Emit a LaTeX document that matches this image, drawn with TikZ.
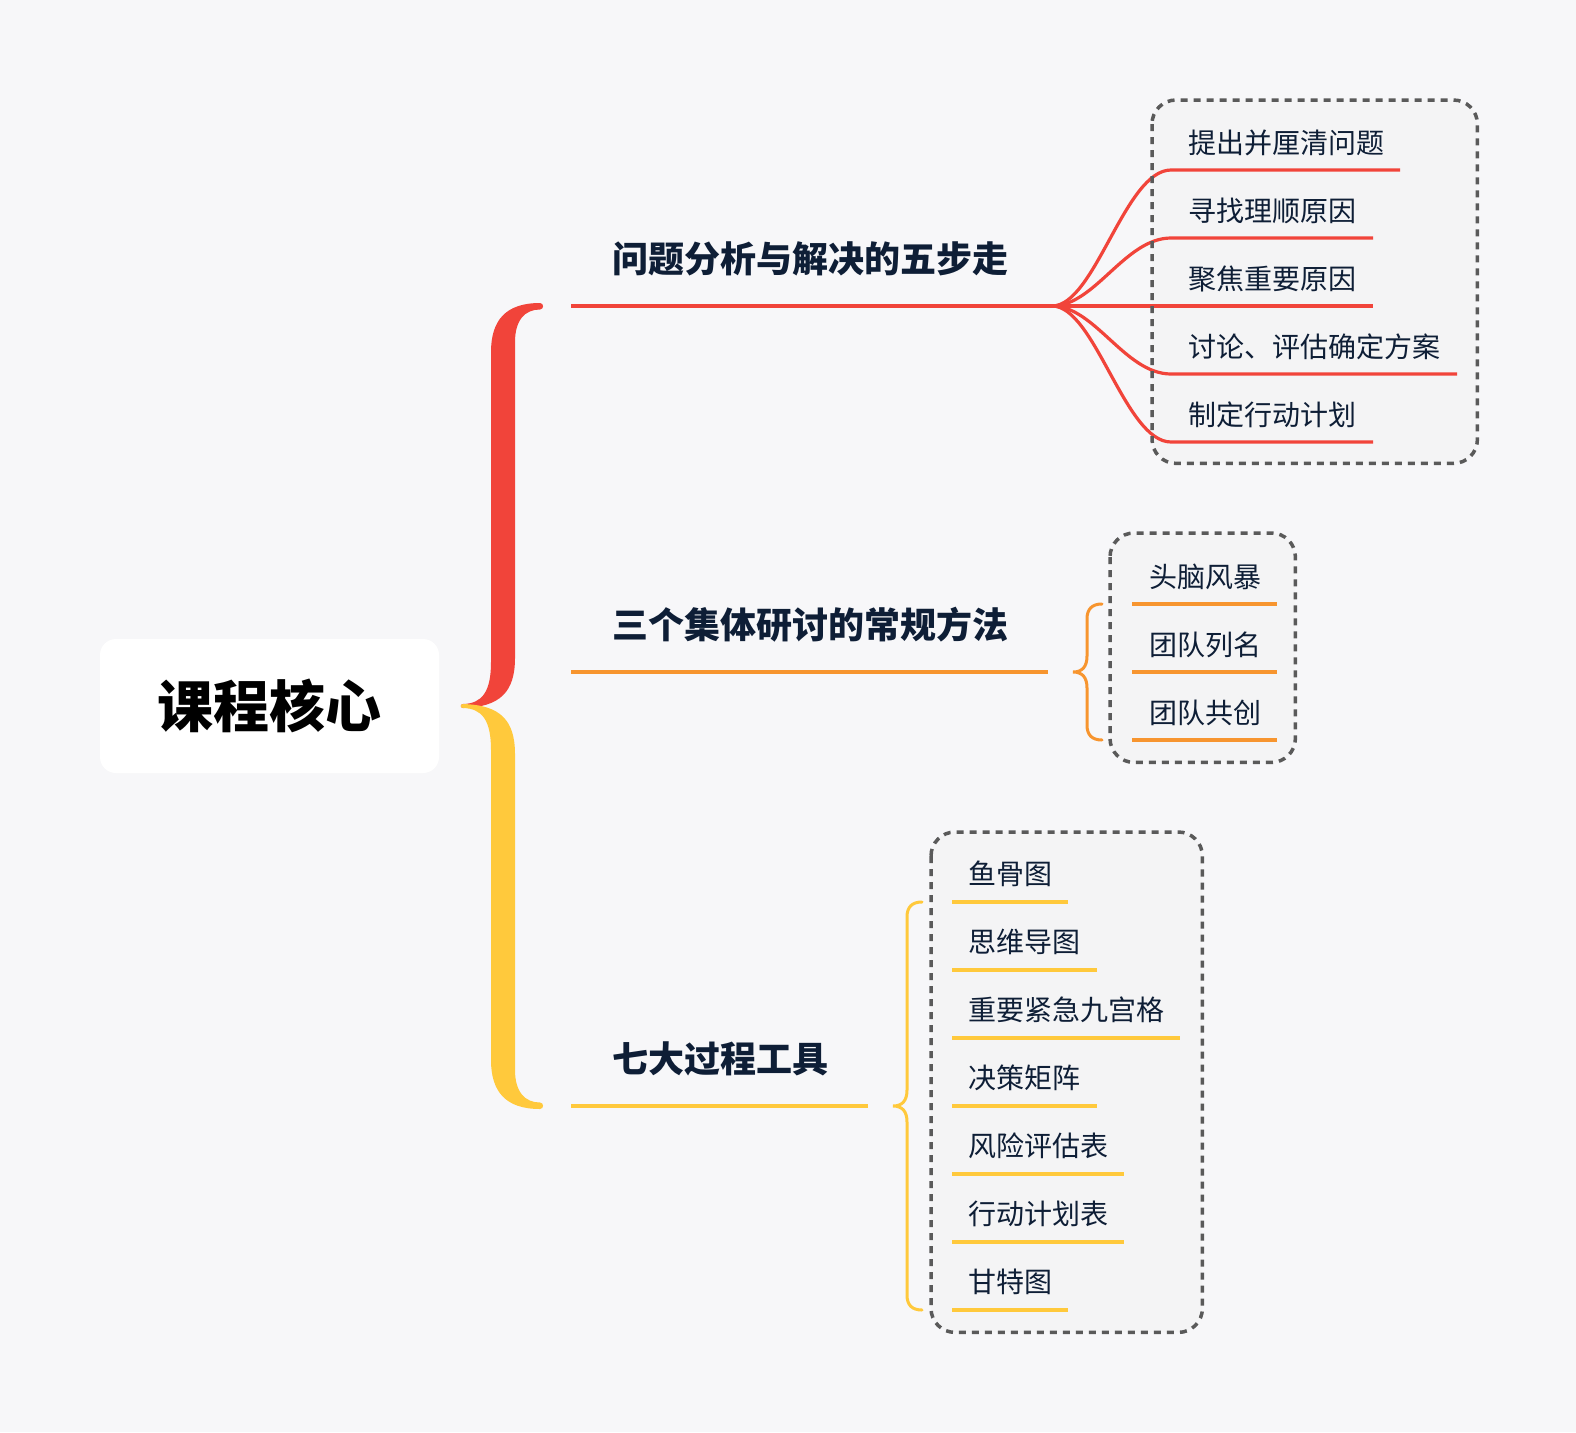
\documentclass[tikz,border=0pt]{standalone}
\usepackage{fontspec}
\setmainfont{Noto Sans CJK SC}
\definecolor{bg}{HTML}{F7F7F9}
\definecolor{cred}{HTML}{F1443A}
\definecolor{corange}{HTML}{F7952F}
\definecolor{cyellow}{HTML}{FFC93C}
\definecolor{inkc}{HTML}{0E1E36}
\definecolor{dashgray}{HTML}{5A5A5A}
\definecolor{boxfill}{HTML}{F4F4F5}
\newcommand\bracehalfpath{(77,-403) .. controls (43,-403) and (28,-386) .. (28,-354) -- (28,-44) .. controls (28,-14) and (19,-2.5) .. (0,-2) .. controls (-3,-1.5) and (-3,1.5) .. (0,2) .. controls (37,1) and (52,-14) .. (52,-48) -- (52,-364) .. controls (52,-386) and (62,-396.5) .. (77,-396.5) .. controls (81,-396.5) and (81,-403) .. (77,-403) -- cycle}
\begin{document}
\begin{tikzpicture}[x=1pt,y=-1pt,
  roottext/.style={fill=white, rounded corners=16pt, minimum width=339pt, minimum height=134pt, inner sep=0pt, font=\fontsize{56}{60}\selectfont\bfseries, text=black, text height=49.3pt, text depth=6.7pt},
  titletext/.style={anchor=west, inner sep=0pt, font=\fontsize{36}{40}\selectfont\bfseries, text=inkc, text height=31.7pt, text depth=4.3pt},
  leaftext/.style={anchor=west, inner sep=0pt, font=\fontsize{28}{32}\selectfont, text=inkc, text height=24.6pt, text depth=3.4pt},
  mainline/.style={line width=4pt},
  leafline/.style={line width=3.2pt},
  smallbrace/.style={line width=3pt, line cap=round},
  boxbg/.style={fill=boxfill, rounded corners=24pt, anchor=north west, inner sep=0pt},
  boxborder/.style={draw=dashgray, line width=3.5pt, dash pattern=on 7pt off 6pt, rounded corners=24pt},
]
\fill[bg] (0,0) rectangle (1576,1432);
\useasboundingbox (0,0) rectangle (1576,1432);

% root
\node[roottext] (root) at (269.5,706) {课程核心};

% big brace
\coordinate (bracetip) at (463,706);
\fill[cred, shift={(bracetip)}] \bracehalfpath;
\fill[cyellow, shift={(bracetip)}, yscale=-1] \bracehalfpath;

% ===== group 1 =====
\node[boxbg, minimum width=325pt, minimum height=363pt] (box1) at (1152,100) {};
\node[titletext] (t1) at (612.5,259) {问题分析与解决的五步走};
\coordinate (t1a) at (571,306); \coordinate (t1b) at (1052,306);
\draw[cred, mainline] (t1a) -- (t1b);

\node[leaftext] (r1) at (1188,142.5) {提出并厘清问题};
\node[leaftext] (r2) at (1188,210.5) {寻找理顺原因};
\node[leaftext] (r3) at (1188,278.5) {聚焦重要原因};
\node[leaftext] (r4) at (1188,346.5) {讨论、评估确定方案};
\node[leaftext] (r5) at (1188,414.5) {制定行动计划};
\coordinate (r1a) at (1171,170); \coordinate (r1b) at (1400,170);
\coordinate (r2a) at (1171,238); \coordinate (r2b) at (1373,238);
\coordinate (r3a) at (1171,306); \coordinate (r3b) at (1373,306);
\coordinate (r4a) at (1171,374); \coordinate (r4b) at (1457,374);
\coordinate (r5a) at (1171,442); \coordinate (r5b) at (1373,442);
\draw[cred, leafline] (t1b) .. controls +(43,0) and +(-46,0) .. (r1a) -- (r1b);
\draw[cred, leafline] (t1b) .. controls +(43,0) and +(-46,0) .. (r2a) -- (r2b);
\draw[cred, leafline] (t1b) -- (r3a) -- (r3b);
\draw[cred, leafline] (t1b) .. controls +(43,0) and +(-46,0) .. (r4a) -- (r4b);
\draw[cred, leafline] (t1b) .. controls +(43,0) and +(-46,0) .. (r5a) -- (r5b);
\draw[boxborder] (box1.north west) rectangle (box1.south east);

% ===== group 2 =====
\node[boxbg, minimum width=185pt, minimum height=229pt] (box2) at (1110,533) {};
\node[titletext] (t2) at (612.5,625) {三个集体研讨的常规方法};
\coordinate (t2a) at (571,672); \coordinate (t2b) at (1048,672);
\draw[corange, mainline] (t2a) -- (t2b);
\coordinate (o0) at (1073,672);
\draw[corange, smallbrace, shift={(o0)}] (29,-68) .. controls (19,-68) and (14,-63) .. (14,-53) -- (14,-16) .. controls (14,-5) and (9,0) .. (0,0) .. controls (9,0) and (14,5) .. (14,16) -- (14,53) .. controls (14,63) and (19,68) .. (29,68);
\node[leaftext] (o1) at (1149,577) {头脑风暴};
\node[leaftext] (o2) at (1149,645) {团队列名};
\node[leaftext] (o3) at (1149,713) {团队共创};
\coordinate (o1a) at (1132,604); \coordinate (o1b) at (1277,604);
\coordinate (o2a) at (1132,672); \coordinate (o2b) at (1277,672);
\coordinate (o3a) at (1132,740); \coordinate (o3b) at (1277,740);
\draw[corange, leafline] (o1a) -- (o1b);
\draw[corange, leafline] (o2a) -- (o2b);
\draw[corange, leafline] (o3a) -- (o3b);
\draw[boxborder] (box2.north west) rectangle (box2.south east);

% ===== group 3 =====
\node[boxbg, minimum width=271pt, minimum height=500pt] (box3) at (931,832) {};
\node[titletext] (t3) at (612.5,1059) {七大过程工具};
\coordinate (t3a) at (571,1106); \coordinate (t3b) at (868,1106);
\draw[cyellow, mainline] (t3a) -- (t3b);
\coordinate (y0) at (893,1106);
\draw[cyellow, smallbrace, shift={(y0)}] (29,-204) .. controls (19,-204) and (14,-199) .. (14,-189) -- (14,-16) .. controls (14,-5) and (9,0) .. (0,0) .. controls (9,0) and (14,5) .. (14,16) -- (14,189) .. controls (14,199) and (19,204) .. (29,204);
\node[leaftext] (y1) at (968,874) {鱼骨图};
\node[leaftext] (y2) at (968,942) {思维导图};
\node[leaftext] (y3) at (968,1010) {重要紧急九宫格};
\node[leaftext] (y4) at (968,1078) {决策矩阵};
\node[leaftext] (y5) at (968,1146) {风险评估表};
\node[leaftext] (y6) at (968,1214) {行动计划表};
\node[leaftext] (y7) at (968,1282) {甘特图};
\coordinate (y1a) at (952,902);  \coordinate (y1b) at (1068,902);
\coordinate (y2a) at (952,970);  \coordinate (y2b) at (1097,970);
\coordinate (y3a) at (952,1038); \coordinate (y3b) at (1180,1038);
\coordinate (y4a) at (952,1106); \coordinate (y4b) at (1097,1106);
\coordinate (y5a) at (952,1174); \coordinate (y5b) at (1124,1174);
\coordinate (y6a) at (952,1242); \coordinate (y6b) at (1124,1242);
\coordinate (y7a) at (952,1310); \coordinate (y7b) at (1068,1310);
\foreach \i in {1,...,7} { \draw[cyellow, leafline] (y\i a) -- (y\i b); }
\draw[boxborder] (box3.north west) rectangle (box3.south east);
\end{tikzpicture}
\end{document}
